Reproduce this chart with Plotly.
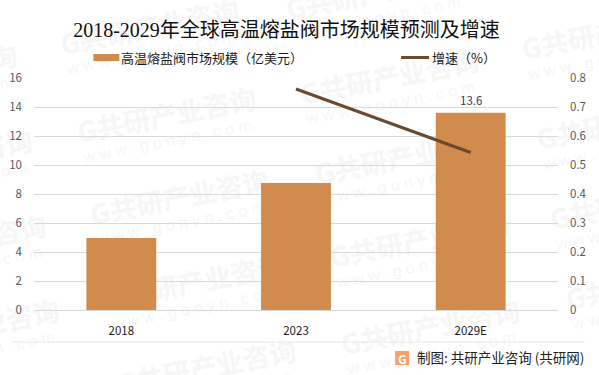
import plotly.graph_objects as go

W, H = 599, 375
L, R, T, B = 33.6, 41, 78, 65

categories = ["2018", "2023", "2029E"]
market_size = [4.97, 8.76, 13.6]
growth = [None, 0.762, 0.543]
size_label = "13.6"
title = "2018-2029年全球高温熔盐阀市场规模预测及增速"
series_names = ["高温熔盐阀市场规模（亿美元）", "增速（%）"]
source = "制图: 共研产业咨询 (共研网)"
wm_main = "G共研产业咨询"
wm_sub = "w w w . g o n y n . c o m"
wm_centers = [(150, 30), (167, 118), (180, 200), (195, 285), (207, 370),
              (-72, 75), (-57, 160), (-43, 245), (-30, 330),
              (376, -5), (390, 80), (405, 160), (420, 243), (431, 330),
              (612, 35), (627, 125), (640, 205), (656, 285)]

CJK = "'Noto Sans CJK SC', sans-serif"
TITLE_FONT = "'Liberation Serif', 'Noto Sans CJK SC', serif"
WM = "#F6F6F6"


def px(x):
    return (x - L) / (W - L - R)


def py(y):
    return (H - B - y) / (H - T - B)


fig = go.Figure()
fig.add_trace(go.Bar(
    x=categories, y=market_size, name=series_names[0], showlegend=False,
    marker=dict(color="#D18B4C", line=dict(width=0)), width=0.4,
))
fig.add_trace(go.Scatter(
    x=categories, y=growth, name=series_names[1], showlegend=False, yaxis="y2", mode="lines",
    line=dict(color="#6B4A2F", width=3), connectgaps=False,
))


def below_text(cx, cy, hw, hh, text, size, family, bold=False):
    return dict(type="rect", xref="paper", yref="paper", layer="below",
                x0=px(cx - hw), x1=px(cx + hw), y0=py(cy + hh), y1=py(cy - hh),
                line=dict(width=0), fillcolor="rgba(0,0,0,0)",
                label=dict(text=f"<b>{text}</b>" if bold else text, textangle=-11,
                           textposition="middle center",
                           font=dict(size=size, color=WM, family=family)))


shapes = [
    dict(type="line", xref="paper", yref="paper", x0=px(12), x1=px(585),
         y0=py(342), y1=py(342), line=dict(color="#E8E8E8", width=1)),
    dict(type="rect", xref="paper", yref="paper", x0=px(395), x1=px(409),
         y0=py(365), y1=py(351), fillcolor="#F4A36C", line=dict(width=0)),
    dict(type="rect", xref="paper", yref="paper", x0=px(93), x1=px(119),
         y0=py(61), y1=py(54), fillcolor="#D18B4C", line=dict(width=0)),
    dict(type="line", xref="paper", yref="paper", x0=px(401), x1=px(429),
         y0=py(57.5), y1=py(57.5), line=dict(color="#6B4A2F", width=3)),
]
for cx, cy in wm_centers:
    shapes.append(below_text(cx, cy, 95, 14, wm_main, 27, CJK, bold=True))
    shapes.append(below_text(cx, cy + 21, 90, 10, wm_sub, 16, "'Liberation Sans', sans-serif"))

fig.update_layout(
    width=W, height=H, autosize=False,
    margin=dict(l=L, r=R, t=T, b=B, pad=0, autoexpand=False),
    paper_bgcolor="white", plot_bgcolor="rgba(0,0,0,0)",
    showlegend=False, bargap=0.6,
    font=dict(family=CJK, color="#404040"),
    xaxis=dict(type="category", categoryorder="array", categoryarray=categories,
               range=[-0.5, 2.5], showgrid=False, showline=True, linecolor="#D9D9D9",
               linewidth=1, ticks="", ticklabelstandoff=10, automargin=False,
               tickfont=dict(size=11.5, color="#1a1a1a", family=CJK)),
    yaxis=dict(range=[0, 16], dtick=2, showgrid=True, gridcolor="#D9D9D9", gridwidth=1,
               zeroline=False, showline=False, ticks="", ticklabelstandoff=11, automargin=False,
               tickfont=dict(size=11.5, color="#595959", family=CJK)),
    yaxis2=dict(range=[0, 0.8], dtick=0.1, overlaying="y", side="right", showgrid=False,
                zeroline=False, showline=False, ticks="", ticklabelstandoff=11, automargin=False,
                tickformat="~g",
                tickfont=dict(size=11.5, color="#595959", family=CJK)),
    title=dict(text=title, x=286.5 / W, xref="container", xanchor="center",
               y=1 - 30 / H, yref="container", yanchor="middle", automargin=False,
               font=dict(size=20, color="#111111", family=TITLE_FONT)),
    shapes=shapes,
    annotations=[
        dict(text=size_label, xref="x", yref="y", x=categories[2], y=market_size[2], yshift=13,
             showarrow=False, xanchor="center", yanchor="middle",
             font=dict(size=11.5, color="#404040", family=CJK)),
        dict(text=series_names[0], xref="paper", yref="paper", x=px(119), y=py(58), showarrow=False,
             xanchor="left", yanchor="middle", font=dict(size=13, color="#1a1a1a", family=CJK)),
        dict(text=series_names[1], xref="paper", yref="paper", x=px(430), y=py(58), showarrow=False,
             xanchor="left", yanchor="middle", font=dict(size=13, color="#1a1a1a", family=CJK)),
        dict(text="<b>G</b>", xref="paper", yref="paper", x=px(402), y=py(358), showarrow=False,
             font=dict(size=12, color="white", family=CJK), xanchor="center", yanchor="middle"),
        dict(text=source, xref="paper", yref="paper", x=px(586), y=py(357), showarrow=False,
             xanchor="right", yanchor="middle",
             font=dict(size=13.5, color="#222222", family=CJK)),
    ],
)
fig.write_html("out.html", config={"displayModeBar": False},
               post_script="document.body.style.margin='0';")
